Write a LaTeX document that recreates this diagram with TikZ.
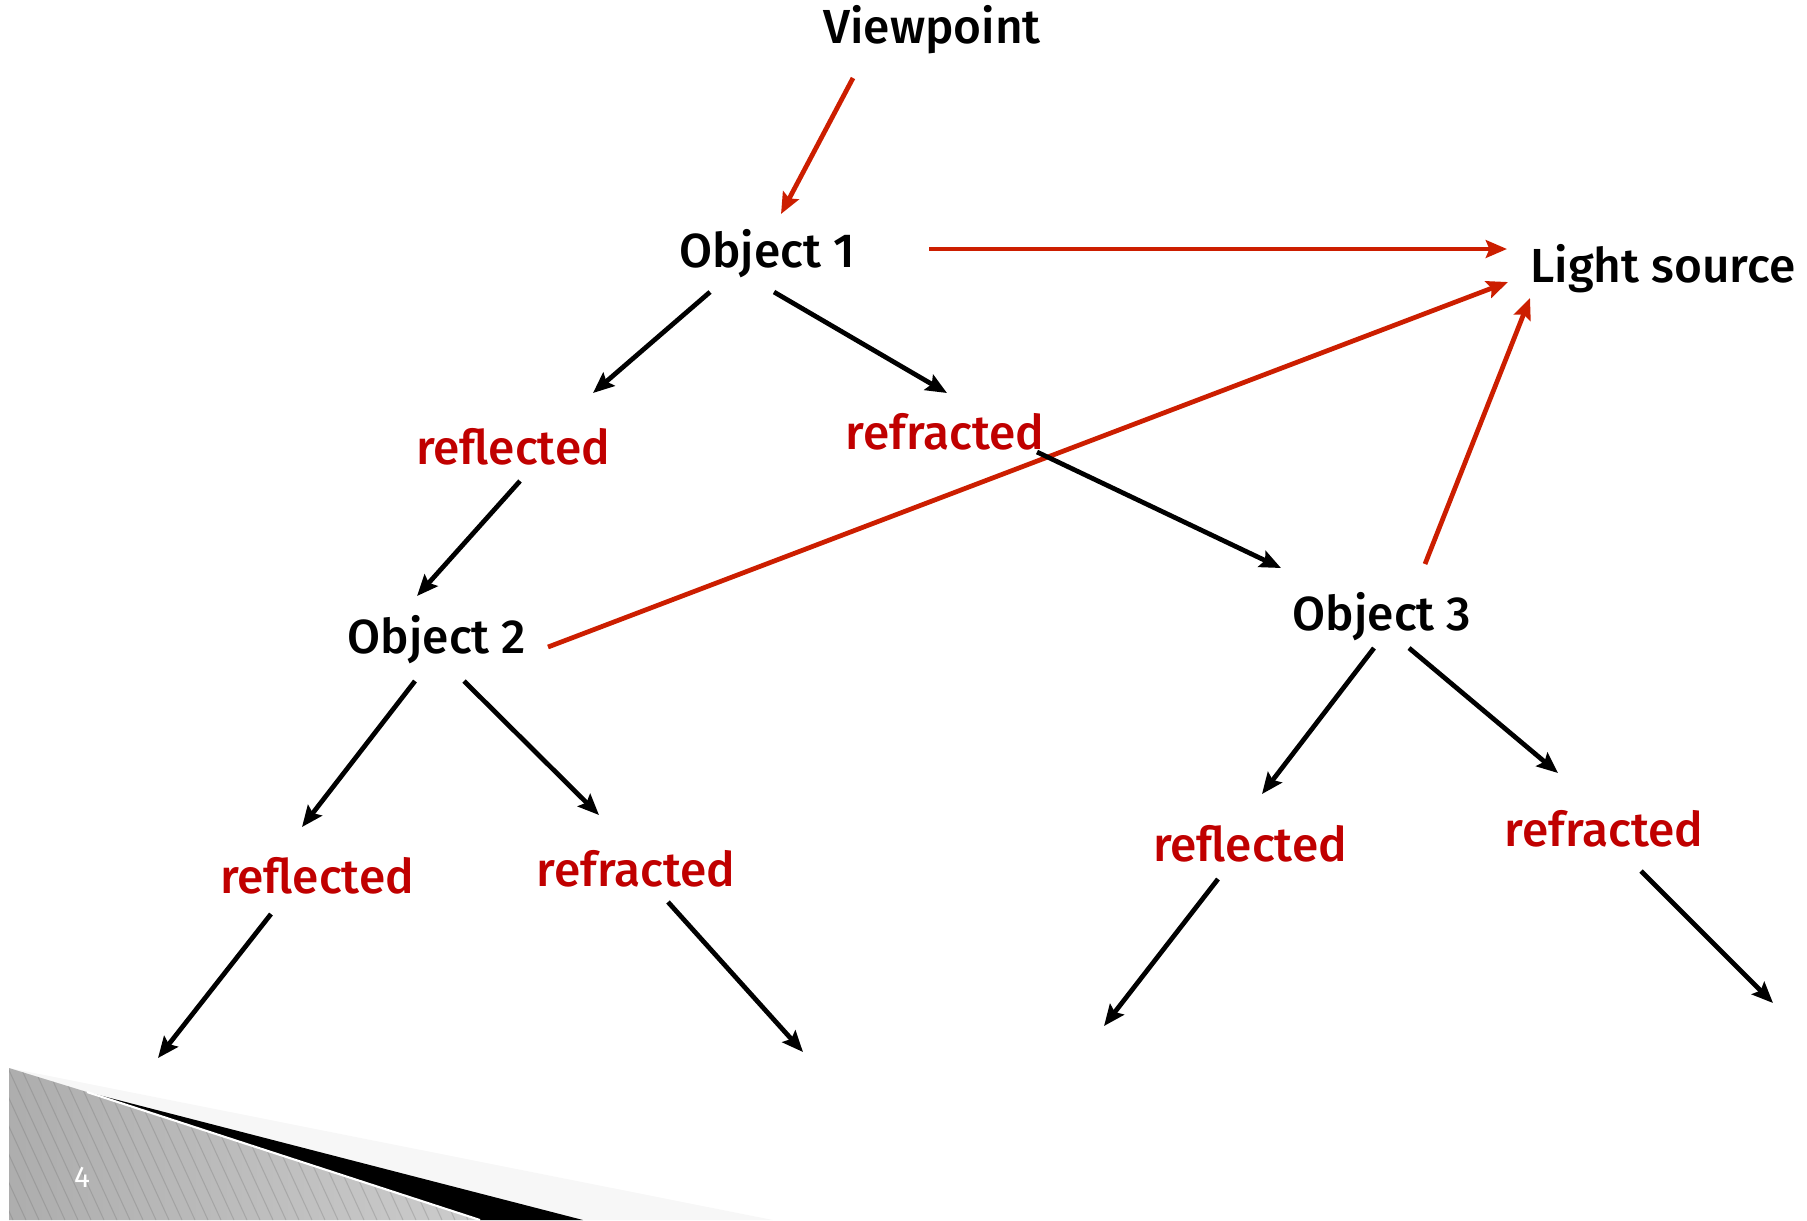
\documentclass[tikz,border=0pt]{standalone}
\usepackage{fontspec}
\setmainfont{Fira Sans}[UprightFont={* Medium}]
\newfontfamily\pagefont{Fira Sans}
\usetikzlibrary{arrows.meta, calc}
\definecolor{labelred}{RGB}{192,0,0}
\definecolor{rayred}{RGB}{204,30,0}
\tikzset{
	x=0.01cm, y=-0.01cm,
	every node/.style={inner sep=0pt, anchor=base, font=\fontsize{13.6}{16}\selectfont},
	obj/.style={text=black},
	ray/.style={text=labelred},
	hit/.style={draw=black, line width=1.35pt, -{Stealth[length=6pt,width=5pt,inset=1pt]}},
	shadow/.style={draw=rayred, line width=1.35pt, -{Stealth[length=6pt,width=5pt,inset=1pt]}}
}

\begin{document}
\begin{tikzpicture}
\useasboundingbox (0,0) rectangle (1807,1220);

% slide corner
\fill[black!3] (9,1068) -- (773,1220) -- (9,1220) -- cycle;
\fill[black] (87,1092) -- (583,1220) -- (480,1220) -- cycle;
\begin{scope}
\clip (9,1068) -- (87,1092) -- (480,1220) -- (9,1220) -- cycle;
\shade[left color=black!32, middle color=black!6, right color=black!20] (9,1068) rectangle (480,1220);
\foreach \i in {0,...,45} \draw[black!60, opacity=0.25, line width=0.3pt] (\i*13-70,1068) -- ++(70,152);
\end{scope}
\draw[white, line width=0.6pt] (87,1092) -- (480,1220);
\node[text=white, font=\pagefont\fontsize{8.5}{10}\selectfont, anchor=center] (pg) at (82,1177) {4};

\node[obj] (vp) at (932,43) {Viewpoint};
\node[obj] (o1) at (767,267) {Object 1};
\node[obj] (ls) at (1663,282) {Light source};
\node[ray] (rl1) at (513,464) {reflected};
\node[ray] (rr1) at (945,449) {refracted};
\node[obj] (o2) at (437,653) {Object 2};
\node[obj] (o3) at (1382,630) {Object 3};
\node[ray] (rl2) at (317,893) {reflected};
\node[ray] (rr2) at (636,886) {refracted};
\node[ray] (rl3) at (1250,861) {reflected};
\node[ray] (rr3) at (1604,846) {refracted};

\coordinate (e1) at (158,1058);
\coordinate (e2) at (803,1052);
\coordinate (e3) at (1104,1026);
\coordinate (e4) at (1773,1003);

\draw[shadow] ($(vp.base)+(-79,35)$) -- ($(o1.base)+(14,-53)$);
\draw[shadow] ($(o1.base)+(162,-18)$) -- ($(ls.base)+(-156,-33)$);
\draw[shadow] ($(o2.base)+(111,-6)$) -- ($(ls.base)+(-155,0)$);
\draw[shadow] ($(o3.base)+(43,-66)$) -- ($(ls.base)+(-133,16)$);

\draw[hit] ($(o1.base)+(-57,25)$) -- ($(rl1.base)+(80,-71)$);
\draw[hit] ($(o1.base)+(7,25)$) -- ($(rr1.base)+(2,-56)$);
\draw[hit] ($(rl1.base)+(7,17)$) -- ($(o2.base)+(-20,-57)$);
\draw[hit] ($(rr1.base)+(92,3)$) -- ($(o3.base)+(-101,-62)$);
\draw[hit] ($(o2.base)+(-22,28)$) -- ($(rl2.base)+(-15,-66)$);
\draw[hit] ($(o2.base)+(27,28)$) -- ($(rr2.base)+(-37,-71)$);
\draw[hit] ($(rl2.base)+(-46,21)$) -- (e1);
\draw[hit] ($(rr2.base)+(32,16)$) -- (e2);
\draw[hit] ($(o3.base)+(-8,18)$) -- ($(rl3.base)+(12,-67)$);
\draw[hit] ($(o3.base)+(27,18)$) -- ($(rr3.base)+(-46,-73)$);
\draw[hit] ($(rl3.base)+(-32,18)$) -- (e3);
\draw[hit] ($(rr3.base)+(37,25)$) -- (e4);
\end{tikzpicture}
\end{document}
